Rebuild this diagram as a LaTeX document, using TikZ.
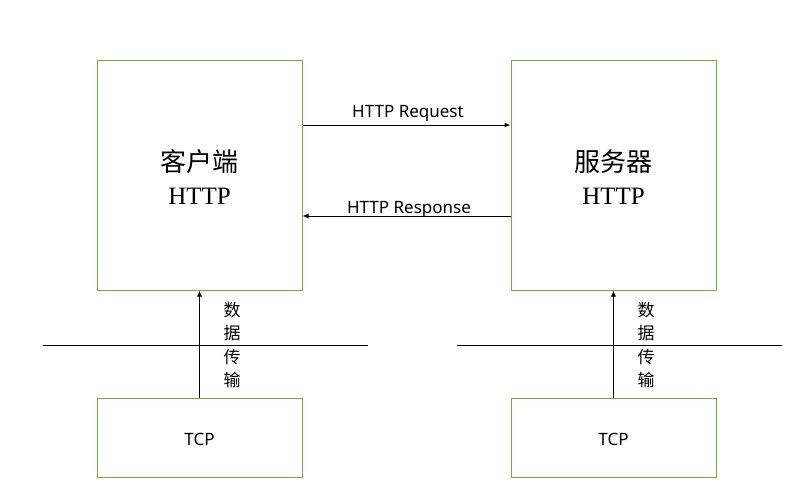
\documentclass[tikz,border=0pt]{standalone}
\usepackage{fontspec}
\setmainfont{Liberation Serif}
\newfontfamily\cjk{Noto Sans CJK SC}
\newfontfamily\lbl{Noto Sans}
\usetikzlibrary{arrows.meta}
\definecolor{boxgreen}{HTML}{70AD47}
\begin{document}
\begin{tikzpicture}[x=1pt,y=-1pt,
  gbox/.style={draw=boxgreen,line width=1pt,inner sep=0pt},
  conn/.style={draw=black,line width=1pt,-{Latex[length=6pt,width=5pt]}},
  sep/.style={draw=black,line width=1pt},
  lab/.style={font=\lbl\fontsize{17}{20}\selectfont,inner sep=0pt},
  big/.style={align=center,font=\fontsize{25}{33}\selectfont},
  vtxt/.style={font=\cjk\fontsize{17}{23.5}\selectfont,align=center,inner sep=0pt}]
\useasboundingbox (0,0) rectangle (804,488);
\node[gbox,minimum width=205pt,minimum height=230pt] (client) at (199.5,175) {};
\node[gbox,minimum width=205pt,minimum height=230pt] (server) at (613.5,175) {};
\node[gbox,minimum width=205pt,minimum height=79pt] (tcpl) at (199.5,437.5) {};
\node[gbox,minimum width=205pt,minimum height=79pt] (tcpr) at (613.5,437.5) {};
\node[big] (ct) at (199.5,177) {{\cjk\fontsize{26}{33}\selectfont 客户端}\\HTTP};
\node[big] (st) at (613.5,177) {{\cjk\fontsize{26}{33}\selectfont 服务器}\\HTTP};
\node[lab] (tl) at (199.5,439) {TCP};
\node[lab] (tr) at (613.5,439) {TCP};
\coordinate (reqA) at (client.east |- 0,125);
\coordinate (reqB) at (server.west |- 0,125);
\coordinate (resA) at (server.west |- 0,216);
\coordinate (resB) at (client.east |- 0,216);
\draw[conn] (reqA) -- (reqB);
\draw[conn] (resA) -- (resB);
\node[lab] (reql) at (408,113) {HTTP Request};
\node[lab] (resl) at (409,209.5) {HTTP Response};
\coordinate (l1) at (43,345); \coordinate (l2) at (368,345);
\coordinate (r1) at (457,345); \coordinate (r2) at (782,345);
\draw[sep] (l1) -- (l2);
\draw[sep] (r1) -- (r2);
\draw[conn] (tcpl.north) -- (client.south);
\draw[conn] (tcpr.north) -- (server.south);
\node[vtxt] (vl) at (232,345) {数\\据\\传\\输};
\node[vtxt] (vr) at (646,345) {数\\据\\传\\输};
\end{tikzpicture}
\end{document}
